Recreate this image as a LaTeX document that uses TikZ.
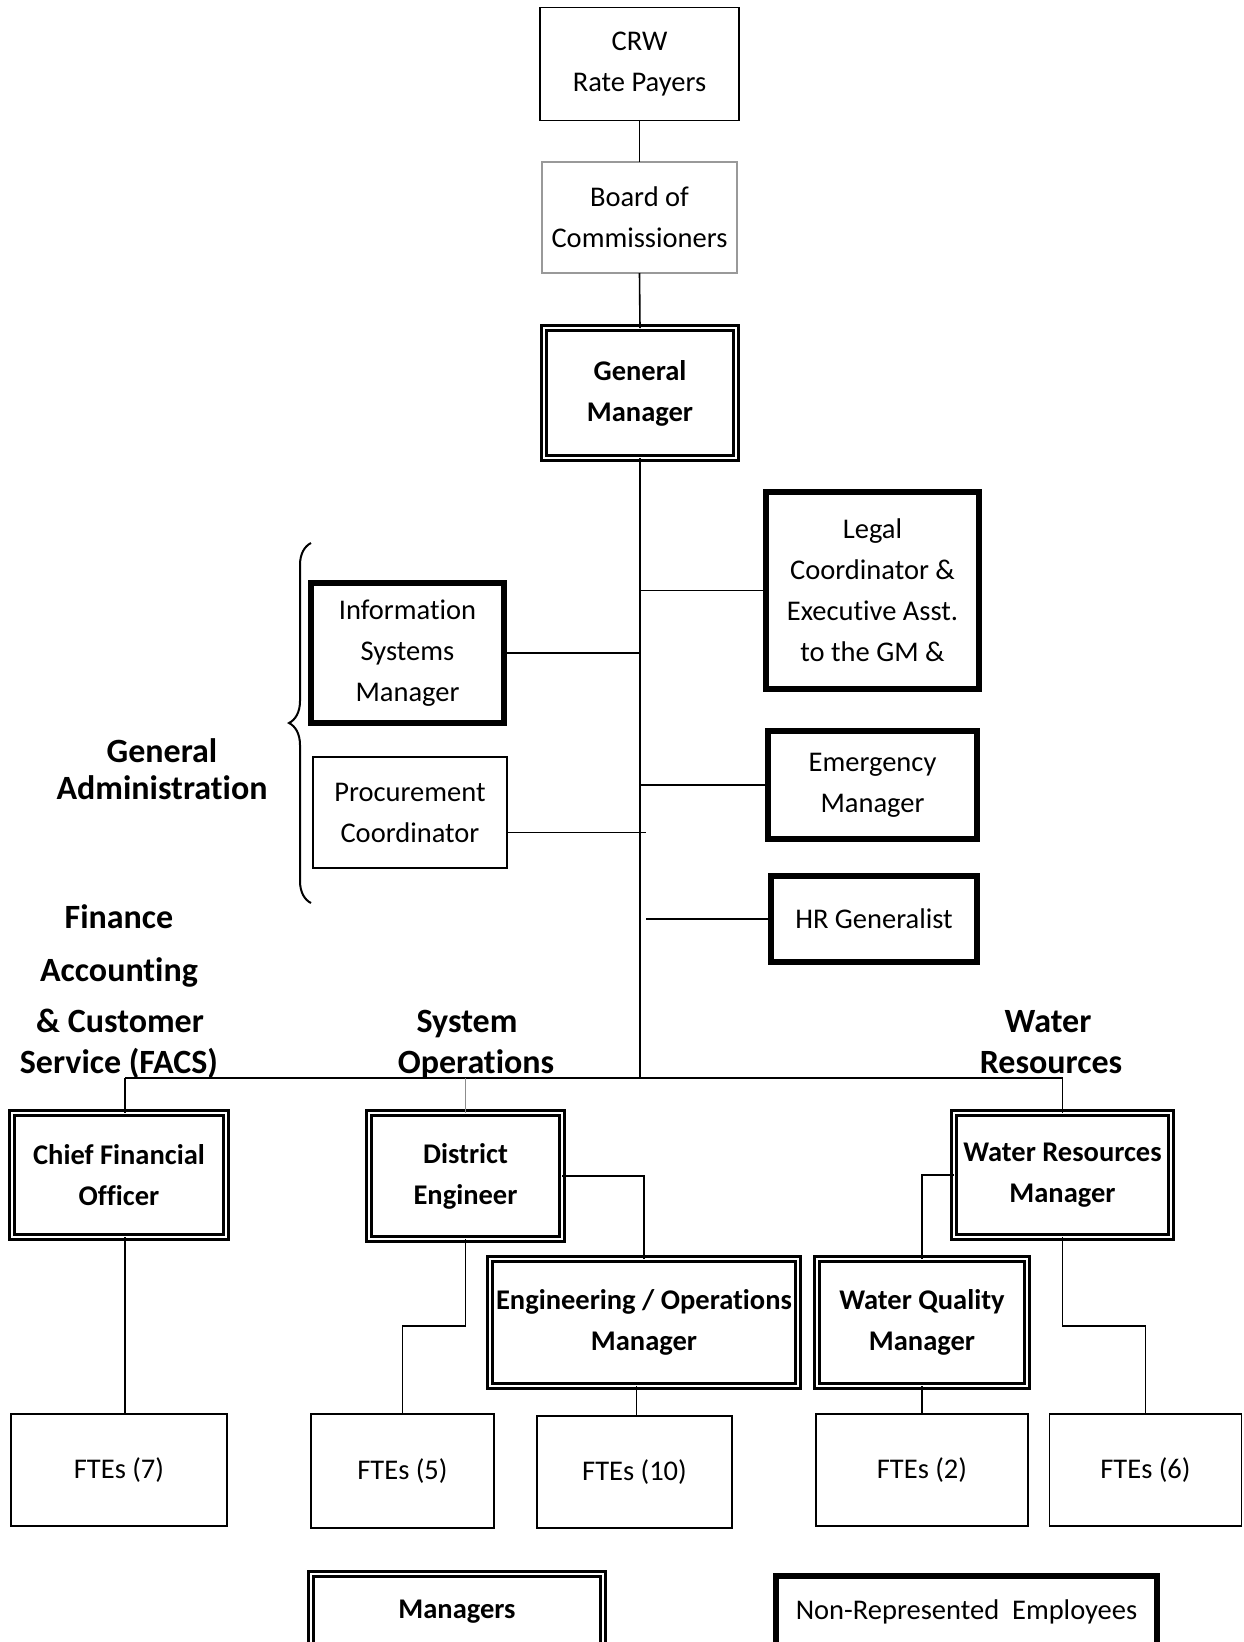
\documentclass[tikz,border=0pt]{standalone}
\usepackage{fontspec}
\setmainfont[Ligatures=NoCommon]{Carlito}
\usetikzlibrary{decorations.pathreplacing}
\tikzset{
  x=1pt, y=-1pt,
  every node/.style={inner sep=0pt, outer sep=0pt, align=center},
  txt/.style={font=\fontsize{28.5}{41}\selectfont},
  btxt/.style={font=\fontsize{28.5}{41}\selectfont\bfseries},
  lbl/.style={font=\fontsize{34}{38}\selectfont\bfseries, anchor=base},
  plainbox/.style={draw, line width=1.6pt, txt},
  graybox/.style={draw=black!40, line width=1.6pt, txt},
  mgrbox/.style={draw, line width=3pt, double=white, double distance=2.4pt, btxt},
  nrebox/.style={draw, line width=5.5pt, txt},
  conn/.style={draw, line width=1.6pt},
}
\begin{document}
\begin{tikzpicture}
\useasboundingbox (0,0) rectangle (1244,1642);
\clip (0,0) rectangle (1244,1642);

% top chain
\node[plainbox, minimum width=199pt, minimum height=113pt] (crw) at (639.5,64) {CRW\\Rate Payers};
\node[graybox, minimum width=195pt, minimum height=111pt] (board) at (639.5,217.5) {Board of\\Commissioners};
\node[mgrbox, minimum width=192pt, minimum height=130pt] (gm) at (640,393) {General\\Manager};

% staff
\node[nrebox, minimum width=213pt, minimum height=197pt] (legal) at (872.5,590.5) {Legal\\Coordinator \&\\Executive Asst.\\to the GM \&};
\node[nrebox, minimum width=193pt, minimum height=140pt] (ism) at (407.5,653) {Information\\Systems\\Manager};
\node[plainbox, minimum width=194pt, minimum height=111pt] (proc) at (410,812.5) {Procurement\\Coordinator};
\node[nrebox, minimum width=209pt, minimum height=108pt] (emer) at (872.5,785) {Emergency\\Manager};
\node[nrebox, minimum width=206pt, minimum height=86pt] (hr) at (874,919) {HR Generalist};

% department managers
\node[mgrbox, minimum width=214pt, minimum height=124pt] (cfo) at (119,1175) {Chief Financial\\Officer};
\node[mgrbox, minimum width=193pt, minimum height=126pt] (de) at (465.5,1176) {District\\Engineer};
\node[mgrbox, minimum width=217pt, minimum height=124pt] (wrm) at (1062.5,1175) {Water Resources\\Manager};
\node[mgrbox, minimum width=308pt, minimum height=127pt] (eom) at (644,1322.5) {Engineering / Operations\\Manager};
\node[mgrbox, minimum width=210pt, minimum height=127pt] (wqm) at (922,1322.5) {Water Quality\\Manager};

% FTE boxes
\node[plainbox, minimum width=216pt, minimum height=112pt] (fte7) at (119,1470) {FTEs (7)};
\node[plainbox, minimum width=183pt, minimum height=114pt] (fte5) at (402.5,1471) {FTEs (5)};
\node[plainbox, minimum width=195pt, minimum height=112pt] (fte10) at (634.5,1472) {FTEs (10)};
\node[plainbox, minimum width=212pt, minimum height=112pt] (fte2) at (922,1470) {FTEs (2)};
\node[plainbox, minimum width=192pt, minimum height=112pt] (fte6) at (1145.5,1470) {FTEs (6)};

% legend
\node[mgrbox, minimum width=292pt, minimum height=76pt] (lgm) at (457,1612) {Managers};
\node[nrebox, minimum width=381pt, minimum height=72pt] (lgn) at (966.5,1612) {Non-Represented\ \ Employees};

% group labels
\node[lbl] (ga1) at (162,762) {General};
\node[lbl] (ga2) at (162,799) {Administration};
\node[lbl] (f1) at (119,928) {Finance};
\node[lbl] (f2) at (119,981) {Accounting};
\node[lbl] (f3) at (120,1032) {\& Customer};
\node[lbl] (f4) at (119,1073) {Service (FACS)};
\node[lbl] (so1) at (467,1032) {System};
\node[lbl] (so2) at (476,1073) {Operations};
\node[lbl] (wr1) at (1048,1032) {Water};
\node[lbl] (wr2) at (1051,1073) {Resources};

% brace
\draw[decorate, decoration={brace, amplitude=22pt, aspect=0.5}, line width=2pt] (311,903) -- (311,543);

% coordinates
\coordinate (busc) at (640,1078);
\coordinate (cfox) at (125,1078);

% connectors
\draw[conn] (crw.south) -- (board.north);
\draw[conn] (board.south) -- (gm.north);
\draw[conn] (gm.south) -- (busc);
\draw[conn] (legal.west) -- (legal.west -| gm.south);
\draw[conn] (ism.east) -- (ism.east -| gm.south);
\draw[conn] (emer.west) -- (emer.west -| gm.south);
\draw[conn] ([yshift=-20pt]proc.east) -- ([yshift=-20pt,xshift=6pt]proc.east -| gm.south);
\draw[conn] (hr.west) -- ([xshift=6pt]hr.west -| gm.south);

% bus
\draw[conn] (cfox) -- (wrm.north |- busc);
\draw[conn] (cfox) -- (cfox |- cfo.north);
\draw[conn] (wrm.north |- busc) -- (wrm.north);
\draw[line width=1.6pt, draw=black!45] (de.north |- busc) -- (de.north);

% lower connectors
\draw[conn] (cfox |- cfo.south) -- (cfox |- fte7.north);
\draw[conn] (de.east) -| (eom.north);
\draw[conn] (de.south) -- (de.south |- 0,1326) -| (fte5.north);
\draw[conn] ([xshift=2pt]fte10.north |- eom.south) -- ([xshift=2pt]fte10.north);
\draw[conn] (wrm.west) -| (wqm.north);
\draw[conn] (wqm.south) -- (fte2.north);
\draw[conn] (wrm.south) -- (wrm.south |- 0,1326) -| (fte6.north);
\end{tikzpicture}
\end{document}
